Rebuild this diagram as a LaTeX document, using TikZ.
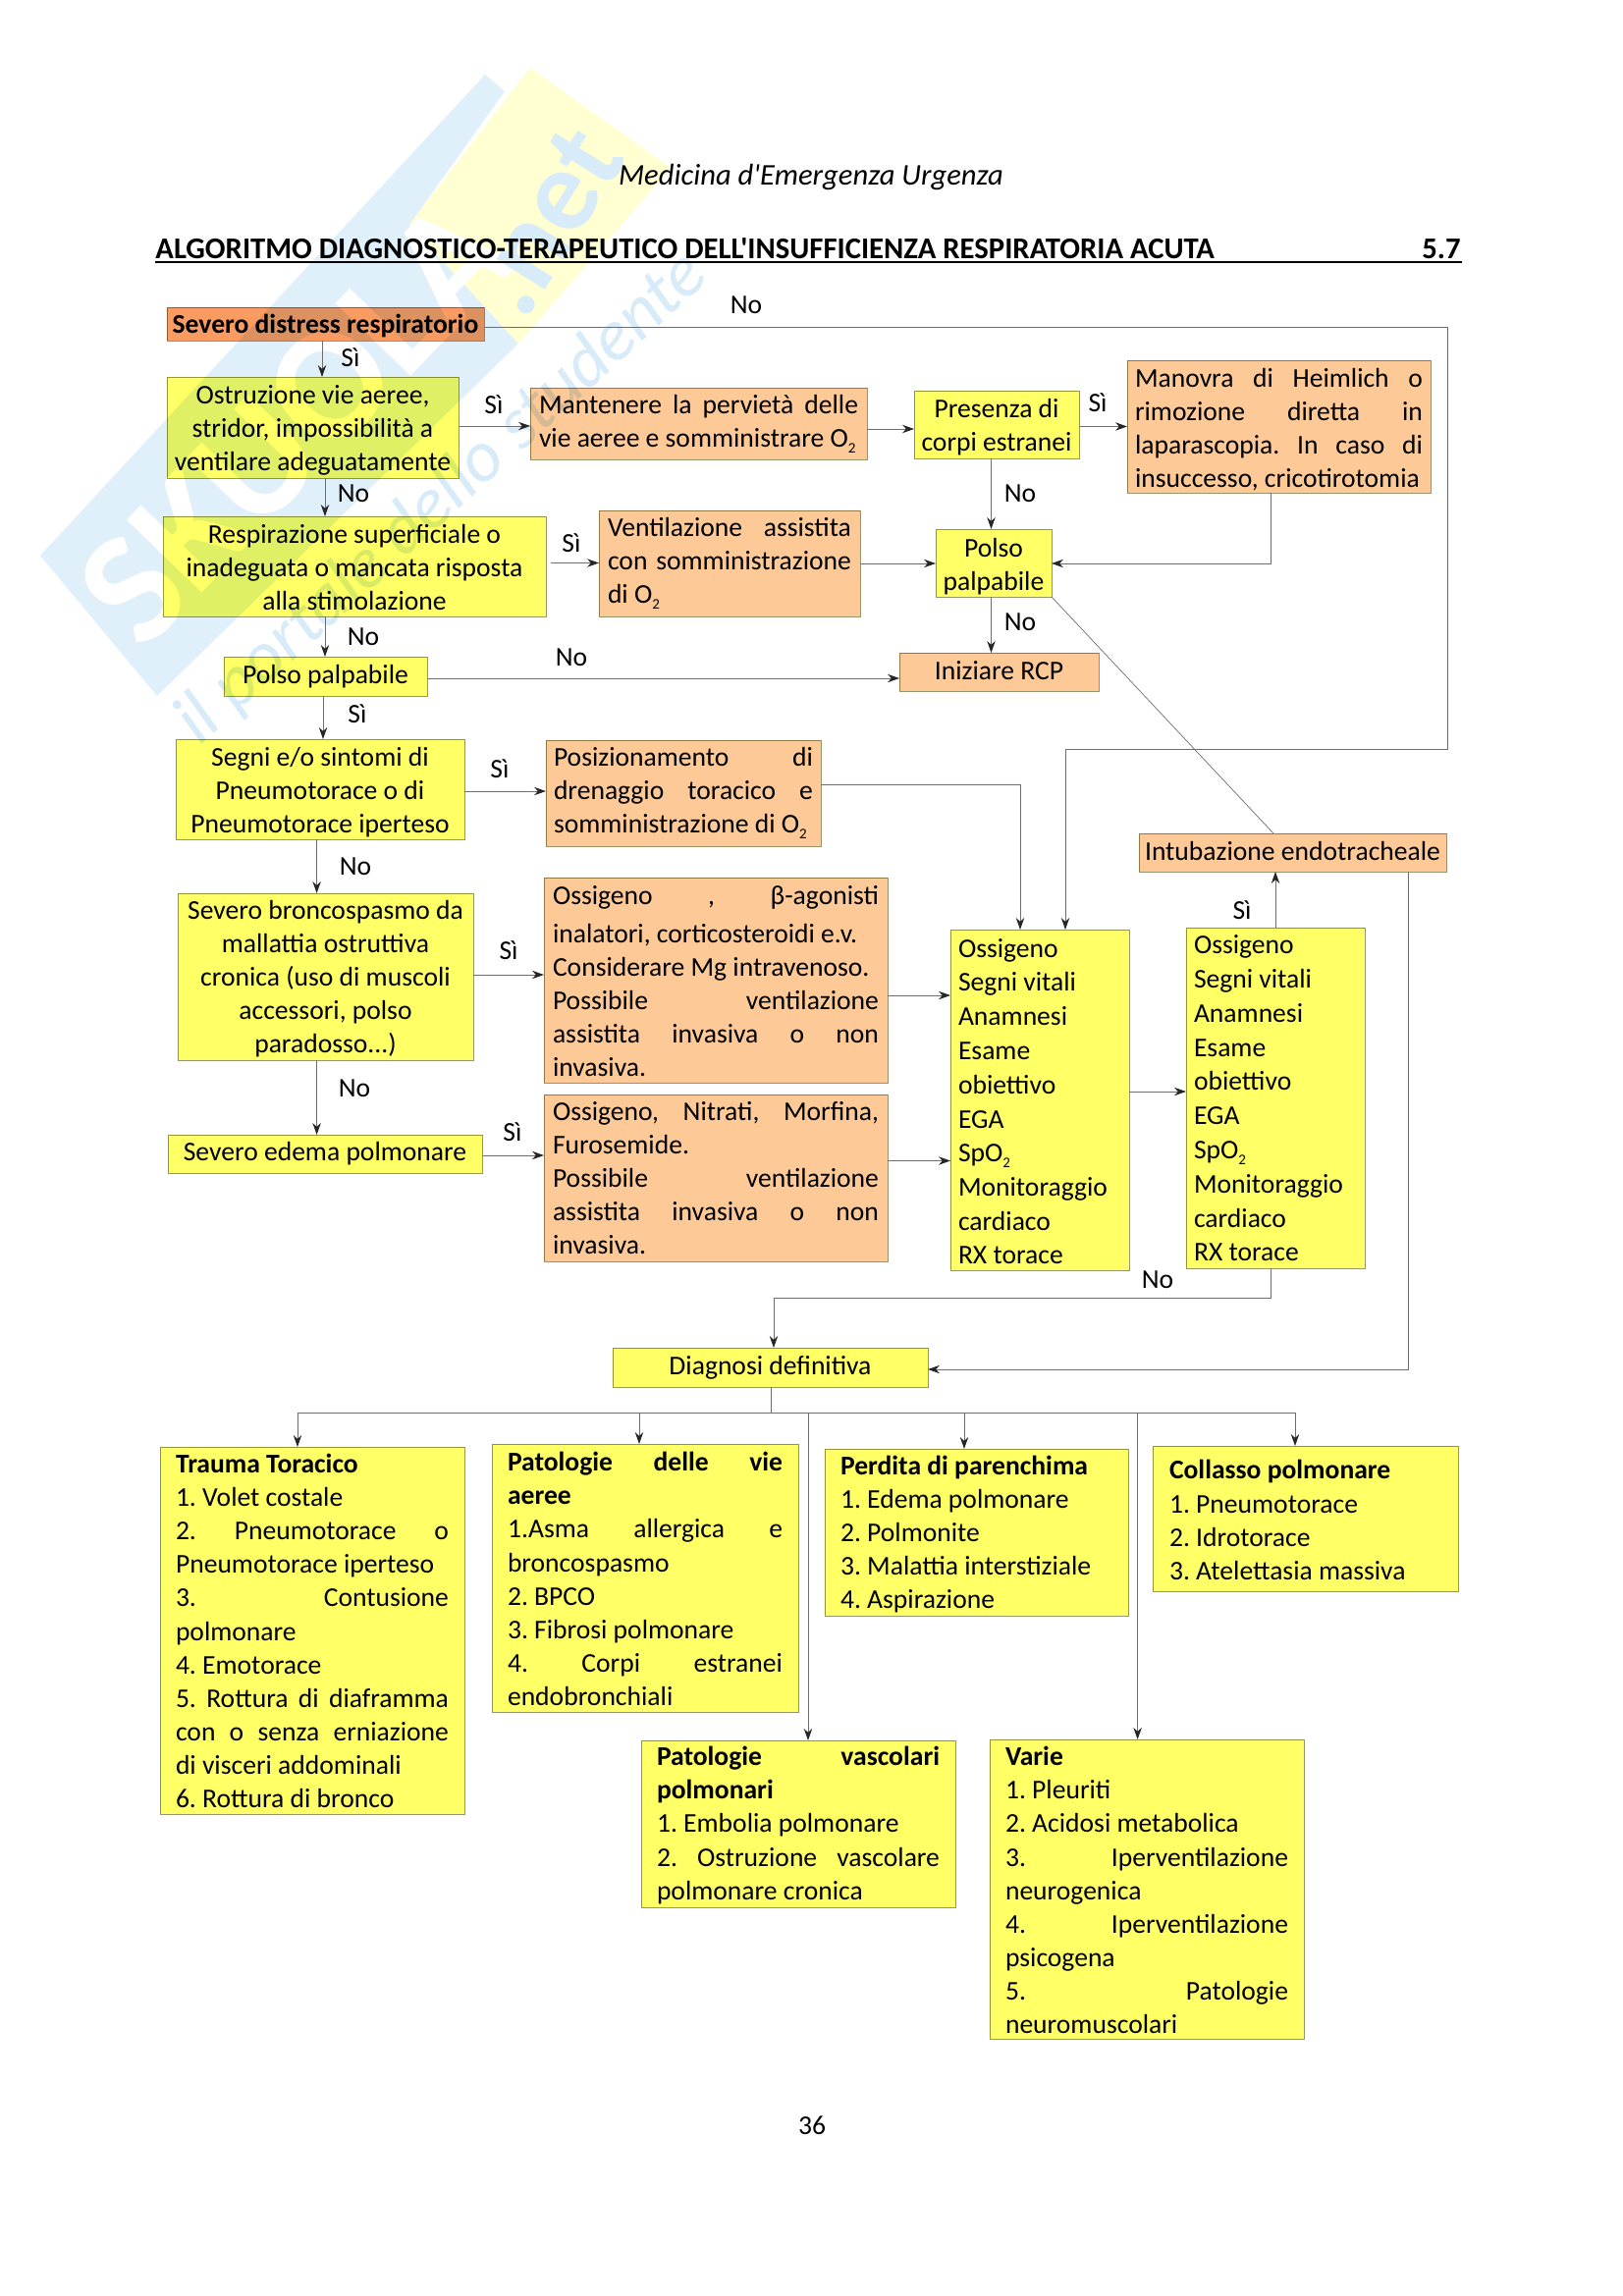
\documentclass[tikz,border=0pt]{standalone}
\usepackage{fontspec}
\setmainfont{Carlito}
\newfontfamily\rawcarlito{Carlito}
\usetikzlibrary{arrows.meta}
\definecolor{boxyellow}{HTML}{FFFF66}
\definecolor{boxorange}{HTML}{FDC997}
\definecolor{boxred}{HTML}{FA9B62}
\definecolor{boxline}{HTML}{96966E}
\definecolor{connline}{HTML}{6E6E6E}
\definecolor{wmblue}{HTML}{E0F0FA}
\definecolor{wmyellow}{HTML}{FFFFD2}
\definecolor{wmtext}{HTML}{D8EBF8}
\pgfdeclarelayer{wmlayer}
\pgfdeclarelayer{fills}
\pgfsetlayers{wmlayer,fills,main}
\tikzset{
  x=0.5pt,y=-0.5pt,
  base/.style={inner sep=0pt,outer sep=0pt,font=\fontsize{13.8}{17.05}\selectfont},
  boxshape/.style={draw=boxline,line width=0.5pt,inner sep=0pt,outer sep=0pt},
  yc/.style={base,align=center},
  yl/.style={base,align=left},
  oc/.style={base,align=center},
  ol/.style={base,align=left},
  rc/.style={base,align=center},
  conn/.style={draw=connline,line width=0.5pt,-{Stealth[length=6pt,width=4.2pt,color=black!85]}},
  plain/.style={draw=connline,line width=0.5pt},
  thin line/.style={draw=connline,line width=0.35pt},
  lab/.style={inner sep=0pt,font=\fontsize{13.8}{17.05}\selectfont},
}
\expandafter\def\csname col@yc\endcsname{boxyellow}
\expandafter\def\csname col@yl\endcsname{boxyellow}
\expandafter\def\csname col@oc\endcsname{boxorange}
\expandafter\def\csname col@ol\endcsname{boxorange}
\expandafter\def\csname col@rc\endcsname{boxred}
% name, x1, y1, x2, y2, style, side padding, text shift (all in page pixels), text
\newcommand{\bx}[9]{%
  \pgfmathsetmacro{\bw}{(#4-#2)*0.5}%
  \pgfmathsetmacro{\bh}{(#5-#3)*0.5}%
  \pgfmathsetmacro{\bt}{(#4-#2-2*#7)*0.5}%
  \pgfmathsetmacro{\bs}{-(#8)*0.5}%
  \begin{pgfonlayer}{fills}\begin{scope}[blend mode=multiply]
    \node[boxshape,fill=\csname col@#6\endcsname,anchor=north west,minimum width=\bw pt,minimum height=\bh pt] (#1) at (#2,#3) {};
  \end{scope}\end{pgfonlayer}%
  \node[#6,text width=\bt pt,yshift=\bs pt] (#1t) at (#1.center) {\spaceskip=.226em\relax #9};}
\newcommand{\jl}[1]{\makebox[\bt pt][s]{\spaceskip=.226em plus 1fil\relax #1}}
\newcommand{\Odue}{O\raisebox{-3pt}{\fontsize{7.5}{8}\selectfont 2}}
\newcommand{\wide}{\fontsize{13.8}{17.4}\selectfont}
\frenchspacing
\begin{document}
\begin{tikzpicture}
\useasboundingbox (0,0) rectangle (1653,2339);
\begin{pgfonlayer}{wmlayer}
  \fill[white] (0,0) rectangle (1653,2339);
  \fill[wmblue] (41,566) -- (494,76) -- (514,93) -- (417,229) -- (528,350) -- (160,709) -- cycle;
  \fill[wmyellow] (417,229) -- (540,69) -- (683,171) -- (528,350) -- cycle;
  \node[inner sep=0pt,text=white,rotate=46,font=\fontsize{82}{84}\selectfont\bfseries] (wm1) at (300,430) {SKUOLA};
  \node[inner sep=0pt,text=wmtext,rotate=58,font=\fontsize{60}{60}\selectfont\bfseries] (wm2) at (555,225) {.net};
  \node[inner sep=0pt,text=wmtext,rotate=42.5,font=\fontsize{37}{40}\selectfont\itshape] (wm3) at (450,508) {il portale dello studente};
\end{pgfonlayer}

\node[inner sep=0pt,font=\fontsize{15.3}{18}\rawcarlito\itshape] (hdr) at (826,180) {Medicina d'Emergenza Urgenza};
\node[inner sep=0pt,anchor=base west,font=\fontsize{15.35}{18}\rawcarlito\bfseries] (ttl) at (158,263) {ALGORITMO DIAGNOSTICO-TERAPEUTICO DELL'INSUFFICIENZA RESPIRATORIA ACUTA};
\node[inner sep=0pt,anchor=base east,font=\fontsize{15.35}{18}\selectfont\bfseries] (sec) at (1488,263) {5.7};
\coordinate (ulA) at (158,266.5);
\coordinate (ulB) at (1489,266.5);
\draw[black,line width=1pt] (ulA) -- (ulB);
\node[lab] (pg) at (827,2165) {36};

% --- boxes
\bx{sev}{170}{313}{493}{347}{rc}{2}{1.5}{\textbf{Severo distress respiratorio}}
\bx{ost}{170}{384}{467}{487}{yc}{2}{3}{Ostruzione vie aeree,\\stridor, impossibilità a\\ventilare adeguatamente}
\bx{man}{540}{395}{883}{468}{ol}{9}{0}{\jl{Mantenere la pervietà delle}\\vie aeree e somministrare \Odue}
\bx{pre}{931}{398}{1099}{467}{yc}{2}{3}{Presenza di\\corpi estranei}
\bx{hei}{1148}{367}{1457}{502}{ol}{8}{3}{\jl{Manovra di Heimlich o}\\\jl{rimozione diretta in}\\\jl{laparascopia. In caso di}\\insuccesso, cricotirotomia}
\bx{res}{166}{526}{556}{628}{yc}{2}{1}{Respirazione superficiale o\\inadeguata o mancata risposta\\alla stimolazione}
\bx{ven}{610}{520}{876}{628}{ol}{9}{0}{\jl{Ventilazione assistita}\\\jl{con somministrazione}\\di \Odue}
\bx{pa}{953}{539}{1071}{608}{yc}{2}{3.5}{Polso\\palpabile}
\bx{pb}{228}{669}{435}{709}{yc}{2}{0}{Polso palpabile}
\bx{rcp}{916}{665}{1119}{704}{oc}{2}{-1.5}{Iniziare RCP}
\bx{seg}{179}{753}{473}{855}{yc}{2}{3}{Segni e/o sintomi di\\Pneumotorace o di\\Pneumotorace iperteso}
\bx{pos}{556}{754}{836}{862}{ol}{8}{0}{\jl{Posizionamento di}\\\jl{drenaggio toracico e}\\somministrazione di \Odue}
\bx{bro}{181}{910}{482}{1080}{yc}{2}{2}{Severo broncospasmo da\\mallattia ostruttiva\\cronica (uso di muscoli\\accessori, polso\\paradosso...)}
\bx{oa}{554}{894}{904}{1103}{ol}{9}{1}{\jl{Ossigeno , β-agonisti}\\[2.5pt]inalatori, corticosteroidi e.v.\\Considerare Mg intravenoso.\\\jl{Possibile ventilazione}\\\jl{assistita invasiva o non}\\invasiva.}
\bx{ede}{171}{1156}{491}{1195}{yc}{2}{0}{Severo edema polmonare}
\bx{ob}{554}{1115}{904}{1285}{ol}{9}{0}{\jl{Ossigeno, Nitrati, Morfina,}\\Furosemide.\\\jl{Possibile ventilazione}\\\jl{assistita invasiva o non}\\invasiva.}
\bx{boxa}{968}{947}{1150}{1294}{yl}{8}{1.5}{\wide Ossigeno\\Segni vitali\\Anamnesi\\Esame\\obiettivo\\EGA\\Sp\Odue\\Monitoraggio\\cardiaco\\RX torace}
\bx{boxb}{1208}{945}{1390}{1292}{yl}{8}{0}{\wide Ossigeno\\Segni vitali\\Anamnesi\\Esame\\obiettivo\\EGA\\Sp\Odue\\Monitoraggio\\cardiaco\\RX torace}
\bx{int}{1160}{849}{1473}{888}{oc}{2}{-1.5}{Intubazione endotracheale}
\bx{dia}{624}{1373}{945}{1413}{yc}{2}{0}{Diagnosi definitiva}
\bx{tra}{163}{1474}{473}{1848}{yl}{16}{0.5}{\textbf{Trauma Toracico}\\1. Volet costale\\\jl{2. Pneumotorace o}\\Pneumotorace iperteso\\\jl{3. Contusione}\\polmonare\\4. Emotorace\\\jl{5. Rottura di diaframma}\\\jl{con o senza erniazione}\\di visceri addominali\\6. Rottura di bronco}
\bx{vie}{501}{1471}{813}{1744}{yl}{16}{1}{\jl{\textbf{Patologie delle vie}}\\\textbf{aeree}\\\jl{1.Asma allergica e}\\broncospasmo\\2. BPCO\\3. Fibrosi polmonare\\\jl{4. Corpi estranei}\\endobronchiali}
\bx{par}{840}{1476}{1149}{1646}{yl}{16}{2}{\textbf{Perdita di parenchima}\\1. Edema polmonare\\2. Polmonite\\3. Malattia interstiziale\\4. Aspirazione}
\bx{col}{1174}{1473}{1485}{1621}{yl}{17}{1.5}{\textbf{Collasso polmonare}\\1. Pneumotorace\\2. Idrotorace\\3. Atelettasia massiva}
\bx{vas}{653}{1773}{973}{1943}{yl}{16}{1.5}{\jl{\textbf{Patologie vascolari}}\\\textbf{polmonari}\\1. Embolia polmonare\\\jl{2. Ostruzione vascolare}\\polmonare cronica}
\bx{var}{1008}{1772}{1328}{2077}{yl}{16}{1}{\textbf{Varie}\\1. Pleuriti\\2. Acidosi metabolica\\\jl{3. Iperventilazione}\\neurogenica\\\jl{4. Iperventilazione}\\psicogena\\\jl{5. Patologie}\\neuromuscolari}

% --- connectors
\draw[conn] (sev.south -| 328,0) -- (ost.north -| 328,0);
\draw[conn] (ost.east |- 0,434) -- (man.west |- 0,434);
\draw[conn] (ost.south -| 331,0) -- (res.north -| 331,0);
\coordinate (resgap) at (561,573.5);
\draw[conn] (resgap) -- (ven.west |- resgap);
\draw[conn] (res.south -| 331,0) -- (pb.north -| 331,0);
\draw[conn] (pb.east |- 0,691) -- (rcp.west |- 0,691);
\draw[conn] (man.east |- 0,437) -- (pre.west |- 0,437);
\draw[conn] (pre.east |- 0,434.5) -- (hei.west |- 0,434.5);
\draw[conn] (pre.south -| 1009.5,0) -- (pa.north -| 1009.5,0);
\draw[conn] (ven.east |- 0,574) -- (pa.west |- 0,574);
\draw[conn] (hei.south -| 1294,0) -- (1294,574) -- (pa.east |- 0,574);
\draw[conn] (pa.south -| 1009.5,0) -- (rcp.north -| 1009.5,0);
\draw[conn] (pb.south -| 329,0) -- (seg.north -| 329,0);
\draw[conn] (seg.east |- 0,806) -- (pos.west |- 0,806);
\draw[conn] (seg.south -| 322.6,0) -- (bro.north -| 322.6,0);
\draw[conn] (bro.east |- 0,993) -- (oa.west |- 0,993);
\draw[conn] (bro.south -| 322.6,0) -- (ede.north -| 322.6,0);
\draw[conn] (ede.east |- 0,1177) -- (ob.west |- 0,1177);
\draw[conn] (pos.east |- 0,799.4) -- (1039,799.4) -- (boxa.north -| 1039,0);
\draw[conn] (oa.east |- 0,1014) -- (boxa.west |- 0,1014);
\draw[conn] (ob.east |- 0,1182.5) -- (boxa.west |- 0,1182.5);
\draw[conn] (boxa.east |- 0,1112) -- (boxb.west |- 0,1112);
\draw[conn] (boxb.north -| 1299,0) -- (int.south -| 1299,0);
\draw[conn] (sev.east |- 0,333) -- (1474,333) -- (1474,763) -- (1085,763) -- (boxa.north -| 1085,0);
\draw[thin line] (pa.south east) -- (int.north -| 1297,0);
\draw[conn] (int.south -| 1434,0) -- (1434,1395) -- (dia.east |- 0,1395);
\draw[conn] (boxb.south -| 1294,0) -- (1294,1322.5) -- (788,1322.5) -- (dia.north -| 788,0);
% tree
\coordinate (trunk) at (785,1439);
\draw[plain] (dia.south -| trunk) -- (trunk);
\draw[conn] (trunk) -- (303,1439) -- (tra.north -| 303,0);
\draw[conn] (trunk) -- (651,1439) -- (vie.north -| 651,0);
\draw[conn] (trunk) -- (823,1439) -- (vas.north -| 823,0);
\draw[conn] (trunk) -- (982,1439) -- (par.north -| 982,0);
\draw[conn] (trunk) -- (1158.6,1439) -- (var.north -| 1158.6,0);
\draw[conn] (trunk) -- (1319,1439) -- (col.north -| 1319,0);

% --- labels
\node[lab] (l1) at (760,311) {No};
\node[lab] (l2) at (357,364) {Sì};
\node[lab] (l3) at (503,412) {Sì};
\node[lab] (l4) at (360,503) {No};
\node[lab] (l5) at (582,553) {Sì};
\node[lab] (l6) at (370,649) {No};
\node[lab] (l7) at (582,670) {No};
\node[lab] (l8) at (364,727) {Sì};
\node[lab] (l9) at (1118,410) {Sì};
\node[lab] (l10) at (1039,503) {No};
\node[lab] (l11) at (1039,634) {No};
\node[lab] (l12) at (509,783) {Sì};
\node[lab] (l13) at (362,883) {No};
\node[lab] (l14) at (518,968) {Sì};
\node[lab] (l15) at (361,1109) {No};
\node[lab] (l16) at (522,1153) {Sì};
\node[lab] (l17) at (1265,927) {Sì};
\node[lab] (l18) at (1179,1304) {No};
\end{tikzpicture}
\end{document}
